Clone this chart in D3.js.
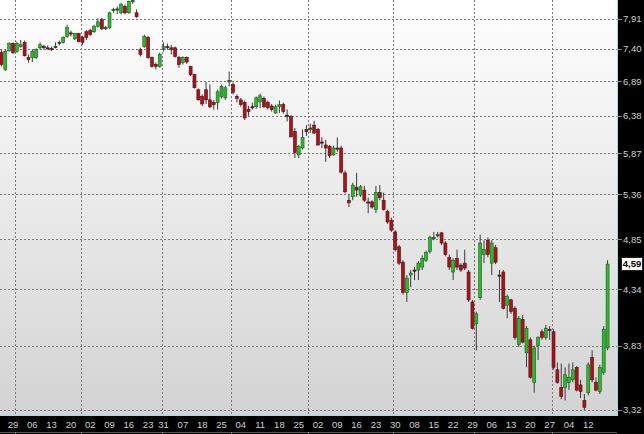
<!DOCTYPE html>
<html lang="en">
<head>
<meta charset="UTF-8">
<title>Candles</title>
<script src="https://d3js.org/d3.v7.min.js"></script>
<style>
  html, body { margin: 0; padding: 0; background: #000; }
  svg { display: block; }
</style>
</head>
<body>
<svg width="644" height="434" font-family="Liberation Sans, Arial, sans-serif"></svg>
<script>
// daily prices
var opens = [
  7.34,7.07,7.37,7.49,7.36,7.44,7.51,7.26,7.26,7.26,
  7.42,7.44,7.42,7.41,7.42,7.49,7.51,7.61,7.67,7.57,
  7.66,7.59,7.69,7.71,7.69,7.78,7.90,7.74,7.76,8.06,
  8.08,8.02,8.13,8.02,8.22,8.02,7.39,7.44,7.59,7.26,
  7.15,7.12,7.41,7.44,7.42,7.42,7.26,7.18,7.26,7.12,
  6.99,6.76,6.66,6.76,6.61,6.57,6.57,6.66,6.64,6.88,
  6.84,6.66,6.61,6.57,6.47,6.51,6.51,6.58,6.63,6.57,
  6.52,6.42,6.51,6.54,6.39,6.37,6.16,5.85,5.94,6.19,
  6.19,6.25,6.19,6.02,5.98,5.96,5.85,5.94,5.94,5.62,
  5.29,5.33,5.44,5.35,5.41,5.27,5.27,5.18,5.38,5.29,
  5.16,5.06,4.93,4.77,4.61,4.31,4.48,4.53,4.53,4.56,
  4.63,4.72,4.86,4.89,4.92,4.81,4.66,4.51,4.65,4.58,
  4.60,4.51,4.22,4.02,4.26,4.69,4.84,4.60,4.76,4.48,
  4.51,4.19,4.24,4.16,3.84,4.06,3.77,3.88,3.53,3.83,
  3.95,3.90,3.97,3.95,3.63,3.49,3.49,3.53,3.55,3.65,
  3.51,3.39,3.45,3.73,3.53,3.46,3.61,3.81
];
var highs = [
  7.39,7.39,7.51,7.51,7.52,7.55,7.54,7.31,7.39,7.41,
  7.51,7.47,7.46,7.44,7.51,7.54,7.61,7.81,7.71,7.67,
  7.67,7.62,7.72,7.74,7.81,7.92,7.93,7.79,8.04,8.11,
  8.13,8.20,8.17,8.24,8.30,8.08,7.42,7.64,7.62,7.28,
  7.18,7.34,7.51,7.49,7.47,7.44,7.29,7.28,7.28,7.13,
  7.00,6.78,6.69,6.88,6.84,6.61,6.76,6.84,6.82,7.04,
  6.87,6.69,6.64,6.60,6.52,6.57,6.66,6.70,6.66,6.60,
  6.55,6.54,6.60,6.57,6.47,6.39,6.21,5.98,6.19,6.25,
  6.27,6.31,6.21,6.08,6.05,5.98,5.97,6.08,5.97,5.65,
  5.35,5.50,5.62,5.47,5.46,5.32,5.29,5.46,5.47,5.38,
  5.18,5.09,4.95,4.79,4.63,4.48,4.53,4.56,4.62,4.68,
  4.73,4.89,4.93,4.93,4.93,4.83,4.69,4.65,4.74,4.60,
  4.74,4.53,4.24,4.13,4.90,4.84,4.87,4.84,4.79,4.53,
  4.53,4.29,4.25,4.18,4.09,4.10,4.00,3.90,3.83,3.91,
  3.97,4.01,4.00,3.97,3.69,3.68,3.65,3.68,3.69,3.66,
  3.55,3.44,3.69,3.79,3.57,3.67,4.00,4.63
];
var lows = [
  7.12,7.05,7.36,7.32,7.34,7.42,7.28,7.18,7.19,7.24,
  7.39,7.39,7.39,7.37,7.41,7.46,7.49,7.59,7.61,7.55,
  7.51,7.47,7.55,7.62,7.67,7.76,7.72,7.72,7.74,8.02,
  8.00,7.99,7.99,8.00,8.18,7.93,7.28,7.42,7.24,7.10,
  7.07,7.10,7.36,7.39,7.31,7.26,7.10,7.15,7.16,6.97,
  6.78,6.60,6.52,6.55,6.49,6.47,6.47,6.63,6.61,6.81,
  6.69,6.57,6.51,6.32,6.38,6.47,6.48,6.49,6.49,6.47,
  6.44,6.41,6.42,6.41,6.30,6.08,5.81,5.81,5.92,6.10,
  6.14,6.13,5.97,5.94,5.76,5.81,5.84,5.89,5.61,5.37,
  5.21,5.29,5.33,5.33,5.27,5.14,5.19,5.14,5.29,5.17,
  5.02,4.93,4.72,4.58,4.29,4.22,4.36,4.43,4.43,4.53,
  4.61,4.70,4.84,4.87,4.79,4.67,4.53,4.43,4.53,4.51,
  4.53,4.22,3.97,3.79,4.24,4.60,4.66,4.48,4.59,4.22,
  4.15,4.07,4.11,3.88,3.82,3.85,3.65,3.56,3.45,3.71,
  3.88,3.88,3.88,3.63,3.52,3.40,3.39,3.47,3.53,3.46,
  3.41,3.32,3.43,3.53,3.46,3.44,3.59,3.79
];
var closes = [
  7.15,7.36,7.49,7.34,7.49,7.47,7.29,7.23,7.36,7.39,
  7.47,7.42,7.41,7.40,7.44,7.51,7.59,7.76,7.66,7.66,
  7.52,7.51,7.59,7.64,7.78,7.86,7.74,7.76,8.02,8.08,
  8.09,8.17,8.02,8.22,8.24,7.95,7.31,7.61,7.26,7.12,
  7.12,7.31,7.44,7.42,7.39,7.28,7.15,7.26,7.19,6.99,
  6.79,6.61,6.55,6.61,6.51,6.54,6.73,6.81,6.79,6.90,
  6.72,6.63,6.54,6.35,6.44,6.50,6.64,6.67,6.51,6.50,
  6.47,6.51,6.54,6.44,6.37,6.09,5.88,5.96,6.08,6.16,
  6.21,6.14,5.98,6.01,5.94,5.84,5.94,5.93,5.63,5.39,
  5.26,5.47,5.41,5.45,5.29,5.26,5.21,5.38,5.32,5.18,
  5.04,4.95,4.74,4.60,4.31,4.45,4.50,4.52,4.60,4.65,
  4.71,4.87,4.87,4.90,4.81,4.69,4.56,4.63,4.56,4.53,
  4.55,4.24,3.98,4.11,4.81,4.74,4.69,4.81,4.61,4.47,
  4.16,4.27,4.13,3.90,4.07,3.86,3.98,3.57,3.81,3.90,
  3.90,3.98,3.96,3.65,3.53,3.42,3.59,3.57,3.63,3.47,
  3.46,3.34,3.67,3.55,3.47,3.65,3.97,4.59
];

// price axis ticks (right side)
var yTicks = [3.32, 3.83, 4.34, 4.85, 5.36, 5.87, 6.38, 6.89, 7.40, 7.91];

// date labels on the bottom strip and the candle each one sits under
var dateLabels = ["29","06","13","20","02","09","16","23","31","07","18","25","04","11","18","25",
                  "02","09","16","23","30","08","15","22","29","06","13","20","27","04","12"];
var dateIdx = [3,8,13,18,23,28,33,38,42,47,52,57,62,67,72,77,82,87,92,97,102,107,112,117,122,127,132,137,142,147,152];

// first candle of each month (vertical grid lines)
var monthIdx = [4, 21, 42, 60, 80, 102, 123, 143];

var svg = d3.select("svg"),
    width = +svg.attr("width"),
    height = +svg.attr("height"),
    plotW = 617,
    plotH = 415;

var data = opens.map(function(o, i) {
    return { i: i, open: o, high: highs[i], low: lows[i], close: closes[i] };
});

var x = d3.scaleBand()
    .domain(d3.range(data.length))
    .range([-0.5, 609.5]);

var y = d3.scaleLog()
    .domain([3.32, 7.91])
    .range([410, 19]);

var fmt = d3.formatLocale({ decimal: ",", thousands: ".", grouping: [3], currency: ["", ""] }).format(".2f");

var defs = svg.append("defs");
var grad = defs.append("linearGradient")
    .attr("id", "bg")
    .attr("x1", 0).attr("y1", 0).attr("x2", 0).attr("y2", 1);
grad.append("stop").attr("offset", "0%").attr("stop-color", "#ffffff");
grad.append("stop").attr("offset", "100%").attr("stop-color", "#d3d3d3");

defs.append("clipPath").attr("id", "clip")
    .append("rect").attr("width", plotW).attr("height", plotH);

svg.append("rect")
    .attr("width", width)
    .attr("height", height)
    .attr("fill", "#000");

svg.append("rect")
    .attr("width", plotW)
    .attr("height", plotH)
    .attr("fill", "url(#bg)");

// grid
var grid = svg.append("g")
    .attr("stroke", "#7a7a7a")
    .attr("stroke-dasharray", "2,2")
    .attr("shape-rendering", "crispEdges");

grid.selectAll("line.h")
    .data(yTicks)
    .enter().append("line")
    .attr("class", "h")
    .attr("x1", 0)
    .attr("x2", plotW)
    .attr("y1", function(d) { return Math.round(y(d)) + 0.5; })
    .attr("y2", function(d) { return Math.round(y(d)) + 0.5; });

grid.selectAll("line.v")
    .data(monthIdx)
    .enter().append("line")
    .attr("class", "v")
    .attr("x1", function(d) { return Math.round(x(d)) + 0.5; })
    .attr("x2", function(d) { return Math.round(x(d)) + 0.5; })
    .attr("y1", 0)
    .attr("y2", plotH);

// candles
var candles = svg.append("g")
    .attr("clip-path", "url(#clip)")
    .selectAll("g")
    .data(data)
    .enter().append("g");

function cx(d) { return x(d.i) + x.bandwidth() / 2; }

candles.append("line")
    .attr("x1", cx)
    .attr("x2", cx)
    .attr("y1", function(d) { return y(d.high); })
    .attr("y2", function(d) { return y(d.low); })
    .attr("stroke", "#3a3a3a")
    .attr("stroke-width", 1);

candles.append("rect")
    .attr("x", function(d) { return cx(d) - 1.5; })
    .attr("width", 3)
    .attr("y", function(d) { return y(Math.max(d.open, d.close)); })
    .attr("height", function(d) { return Math.max(1.2, Math.abs(y(d.open) - y(d.close))); })
    .attr("fill", function(d) {
        if (Math.abs(y(d.open) - y(d.close)) < 1.5) return "#333";
        return d.close >= d.open ? "#2fb82f" : "#a3161b";
    })
    .attr("stroke", function(d) { return d.close >= d.open ? "#1d5e1d" : "#5a0c0c"; })
    .attr("stroke-width", 0.6);

// frame lines in cyan
svg.append("line")
    .attr("x1", plotW + 0.5).attr("x2", plotW + 0.5)
    .attr("y1", 0).attr("y2", plotH + 1)
    .attr("stroke", "#9fdede");
svg.append("line")
    .attr("x1", 0).attr("x2", plotW + 1)
    .attr("y1", plotH + 0.5).attr("y2", plotH + 0.5)
    .attr("stroke", "#9fdede");

// price axis
var yAxis = svg.append("g");
yAxis.selectAll("line")
    .data(yTicks)
    .enter().append("line")
    .attr("x1", plotW + 1)
    .attr("x2", plotW + 5)
    .attr("y1", function(d) { return Math.round(y(d)) + 0.5; })
    .attr("y2", function(d) { return Math.round(y(d)) + 0.5; })
    .attr("stroke", "#888");
yAxis.selectAll("text")
    .data(yTicks)
    .enter().append("text")
    .attr("x", plotW + 6)
    .attr("y", function(d) { return y(d); })
    .attr("dy", "0.35em")
    .attr("font-size", 9.5)
    .attr("fill", "#d0d0d0")
    .text(fmt);

// last price tag
var last = closes[closes.length - 1];
svg.append("rect")
    .attr("x", 621.5)
    .attr("y", Math.round(y(last)) - 6.5)
    .attr("width", 21)
    .attr("height", 13)
    .attr("fill", "#fff")
    .attr("stroke", "#222");
svg.append("text")
    .attr("x", 632)
    .attr("y", y(last))
    .attr("dy", "0.35em")
    .attr("text-anchor", "middle")
    .attr("font-size", 9.5)
    .attr("font-weight", "bold")
    .attr("fill", "#000")
    .text(fmt(last));

// date axis
var xAxis = svg.append("g");
xAxis.selectAll("text")
    .data(dateLabels)
    .enter().append("text")
    .attr("x", function(d, i) { return x(dateIdx[i]) + x.bandwidth() / 2; })
    .attr("y", 428)
    .attr("text-anchor", "middle")
    .attr("font-size", 9.5)
    .attr("fill", "#d0d0d0")
    .text(function(d) { return d; });

xAxis.append("line")
    .attr("x1", 0).attr("x2", plotW)
    .attr("y1", 432.5).attr("y2", 432.5)
    .attr("stroke", "#555");
xAxis.selectAll("line.m")
    .data(monthIdx)
    .enter().append("line")
    .attr("class", "m")
    .attr("x1", function(d) { return Math.round(x(d)) + 0.5; })
    .attr("x2", function(d) { return Math.round(x(d)) + 0.5; })
    .attr("y1", 432)
    .attr("y2", 434)
    .attr("stroke", "#777");
</script>
</body>
</html>
